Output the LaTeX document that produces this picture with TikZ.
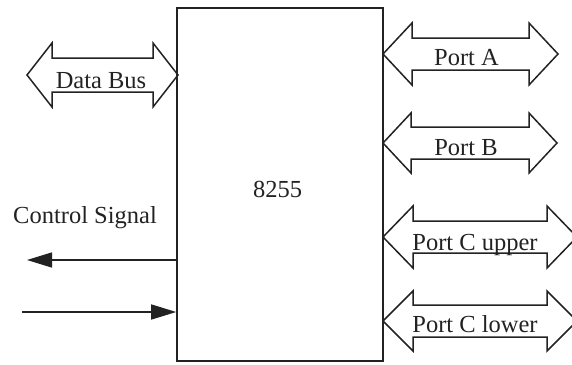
\documentclass[tikz,border=0pt]{standalone}
\usepackage{fontspec}
\setmainfont{Liberation Serif}
\usetikzlibrary{arrows.meta}
\definecolor{ink}{HTML}{222222}
\tikzset{
  busline/.style={draw=ink, line width=1.5pt, line join=miter},
  lbl/.style={text=ink, inner sep=0pt, anchor=base, font=\fontsize{24.5}{29}\selectfont},
  chipbox/.style={draw=ink, line width=1.6pt, inner sep=0pt, minimum width=206pt, minimum height=353pt},
  sig/.style={draw=ink, line width=1.5pt, -{Triangle[length=25pt,width=15pt]}},
}
% #1 name, #2 left tip x, #3 right tip x, #4 centre y, #5 head length, #6 head half-height, #7 shaft half-height
\newcommand\dblarrow[7]{%
  \coordinate (#1-l) at (#2,#4);
  \coordinate (#1-r) at (#3,#4);
  \draw[busline] (#1-l) -- ({#2+#5},{#4-#6}) -- ({#2+#5},{#4-#7}) -- ({#3-#5},{#4-#7})
    -- ({#3-#5},{#4-#6}) -- (#1-r) -- ({#3-#5},{#4+#6}) -- ({#3-#5},{#4+#7})
    -- ({#2+#5},{#4+#7}) -- ({#2+#5},{#4+#6}) -- cycle;}
\begin{document}
\begin{tikzpicture}[x=1pt,y=-1pt]
\useasboundingbox (0,0) rectangle (572,364);
\clip (0,0) rectangle (572,364);
\node[chipbox] (chip) at (280,184.5) {};
\node[lbl] (chiplbl) at (277.5,197) {8255};
% Data bus
\dblarrow{db}{27}{178}{75}{25}{32}{17}
\node[lbl] (dblbl) at (101,88) {Data Bus};
% Ports
\dblarrow{pa}{383}{558}{54}{29}{31}{16}
\node[lbl] (palbl) at (466.5,65) {Port A};
\dblarrow{pb}{383}{557}{143}{28}{30}{16}
\node[lbl] (pblbl) at (466,155) {Port B};
\dblarrow{pcu}{383}{577}{237}{30}{31}{16}
\node[lbl] (pculbl) at (475,250) {Port C upper};
\dblarrow{pcl}{383}{577}{321}{30}{30}{16}
\node[lbl] (pcllbl) at (475,332) {Port C lower};
% Control signals
\node[lbl] (cslbl) at (85,223) {Control Signal};
\coordinate (outend) at (27,260);
\coordinate (instart) at (22,312);
\draw[sig] (chip.west |- outend) -- (outend);
\draw[sig] (instart) -- (chip.west |- instart);
\end{tikzpicture}
\end{document}
